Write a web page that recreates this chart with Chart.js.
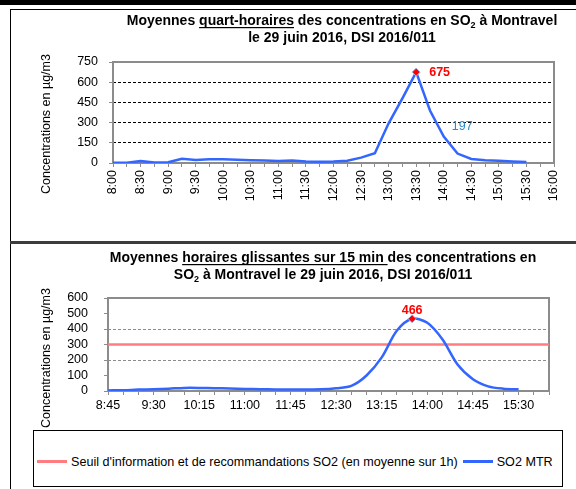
<!DOCTYPE html>
<html>
<head>
<meta charset="utf-8">
<script src="https://cdn.jsdelivr.net/npm/chart.js@4.4.1/dist/chart.umd.min.js"></script>
<style>
  body { margin: 0; background: #fff; font-family: "Liberation Sans", Arial, sans-serif; }
  #page { position: relative; width: 576px; height: 489px; overflow: hidden; }
  #barre { position: absolute; left: 0; top: 0; width: 576px; height: 5px; background: #000; }
  #cadre1 { position: absolute; left: 10px; top: 9px; width: 580px; height: 232px; border-left: 1px solid #000; border-top: 1px solid #000; }
  #sep { position: absolute; left: 10px; top: 241px; width: 580px; height: 3px; background: #3c3c3c; }
  #cadre2 { position: absolute; left: 10px; top: 244px; width: 580px; height: 260px; border-left: 1px solid #000; }
  #c1 { position: absolute; left: 0; top: 0; }
  #c2 { position: absolute; left: 0; top: 243px; }
  #legende { position: absolute; left: 33px; top: 430px; width: 530px; height: 57px; border: 1px solid #000;
             display: flex; align-items: center; padding: 6px 0 0 3px; box-sizing: border-box; font-size: 12.6px; color: #000; white-space: nowrap; }
  #legende .trait { display: inline-block; width: 30px; height: 3px; margin-right: 4px; vertical-align: middle; }
  #legende .item { display: flex; align-items: center; margin-right: 5px; }
</style>
</head>
<body>
<div id="page">
  <div id="barre"></div>
  <div id="cadre1"></div>
  <div id="sep"></div>
  <div id="cadre2"></div>
  <canvas id="c1" width="576" height="243"></canvas>
  <canvas id="c2" width="576" height="187"></canvas>
  <div id="legende"></div>
</div>
<script>
// moyennes quart-horaires (8:00 -> 16:00)
const quartLabels = ['8:00','8:15','8:30','8:45','9:00','9:15','9:30','9:45','10:00','10:15','10:30','10:45',
  '11:00','11:15','11:30','11:45','12:00','12:15','12:30','12:45','13:00','13:15','13:30','13:45',
  '14:00','14:15','14:30','14:45','15:00','15:15','15:30','15:45','16:00'];
const quartValues = [2, 2, 14, 3, 5, 31, 22, 27, 27, 25, 21, 18,
  15, 19, 12, 10, 11, 17, 40, 72, 295, 480, 675, 390,
  197, 70, 30, 20, 16, 12, 8];
const quartTicks = [0, 150, 300, 450, 600, 750];
const quartMax = 22;   // 13:30 -> 675
const quartNote = 24;  // 14:00 -> 197

// moyennes horaires glissantes (8:45 -> 16:00)
const glissLabels = ['8:45','9:00','9:15','9:30','9:45','10:00','10:15','10:30','10:45','11:00','11:15','11:30',
  '11:45','12:00','12:15','12:30','12:45','13:00','13:15','13:30','13:45','14:00','14:15','14:30',
  '14:45','15:00','15:15','15:30','15:45','16:00'];
const glissValues = [4, 5, 9, 11, 15, 20, 20, 18, 16, 13, 12, 10,
  10, 10, 11, 18, 33, 100, 217, 390, 466, 440, 332, 169,
  76, 30, 15, 11];
const seuilValues = [300, 300, 300, 300, 300, 300, 300, 300, 300, 300, 300, 300, 300, 300, 300,
  300, 300, 300, 300, 300, 300, 300, 300, 300, 300, 300, 300, 300, 300, 300];
const glissTicks = [0, 100, 200, 300, 400, 500, 600];
const glissMax = 20;   // 13:45 -> 466

const police = '"Liberation Sans", Arial, sans-serif';
const bleu = '#3366ff';
const rouge = '#ff7c80';

// titre avec souligné et indice
function texteRiche(ctx, parts, cx, y) {
  let total = 0;
  parts.forEach(p => {
    ctx.font = 'bold ' + (p.sub ? 9 : 14) + 'px ' + police;
    p.w = ctx.measureText(p.t).width;
    total += p.w;
  });
  let x = cx - total / 2;
  parts.forEach(p => {
    ctx.font = 'bold ' + (p.sub ? 9 : 14) + 'px ' + police;
    ctx.fillText(p.t, x, p.sub ? y + 3 : y);
    if (p.u) ctx.fillRect(x, y + 2, p.w, 1.2);
    x += p.w;
  });
}

function annotations(opts) {
  return {
    id: 'annot',
    beforeDatasetsDraw(chart) {
      const { ctx, chartArea: a } = chart;
      ctx.save();
      ctx.strokeStyle = '#8c8c8c';
      ctx.lineWidth = 2;
      ctx.strokeRect(a.left, a.top, a.width, a.height);
      ctx.restore();
    },
    afterDraw(chart) {
      const ctx = chart.ctx;
      ctx.save();
      ctx.fillStyle = '#000';
      ctx.textAlign = 'left';
      ctx.textBaseline = 'alphabetic';
      opts.titre.forEach(l => texteRiche(ctx, l.parts, opts.titreX, l.y));
      // titre axe y
      ctx.translate(opts.axeX, opts.axeY);
      ctx.rotate(-Math.PI / 2);
      ctx.font = '12.5px ' + police;
      ctx.textAlign = 'center';
      ctx.textBaseline = 'middle';
      ctx.fillText('Concentrations en µg/m3', 0, 0);
      ctx.restore();
      opts.etiquettes.forEach(e => {
        const pt = chart.getDatasetMeta(e.ds).data[e.i];
        const val = chart.data.datasets[e.ds].data[e.i];
        ctx.save();
        ctx.fillStyle = e.color;
        ctx.font = (e.bold ? 'bold ' : '') + '12.5px ' + police;
        ctx.textAlign = e.align;
        ctx.textBaseline = e.base;
        ctx.fillText(String(val), pt.x + e.dx, pt.y + e.dy);
        ctx.restore();
      });
    }
  };
}

function axeX(labels, pas, hauteur, rot) {
  return {
    type: 'category',
    labels: labels,
    offset: false,
    grid: { drawOnChartArea: false, color: '#8c8c8c', tickColor: '#8c8c8c', tickLength: 4 },
    border: { display: false },
    ticks: {
      autoSkip: false, maxRotation: rot, minRotation: rot, padding: 3,
      color: '#000', font: { size: 12.5, family: police },
      callback: (v, i) => (i % pas === 0 ? labels[i] : '')
    },
    afterFit: s => { s.height = hauteur; }
  };
}

function axeY(ticks, grille, ecart) {
  return {
    min: ticks[0],
    max: ticks[ticks.length - 1],
    afterBuildTicks: s => { s.ticks = ticks.map(v => ({ value: v })); },
    grid: {
      color: c => grille(c.tick.value), tickColor: '#8c8c8c', tickLength: 4, lineWidth: 1
    },
    border: { display: false, dash: [3, 2] },
    ticks: { autoSkip: false, padding: ecart, color: '#000', font: { size: 12.5, family: police } },
    afterFit: s => { s.width = 50; }
  };
}

const ptRayon = idx => c => (c.dataIndex === idx ? 4 : 0);

new Chart(document.getElementById('c1'), {
  type: 'line',
  data: {
    labels: quartLabels,
    datasets: [{
      label: 'SO2 MTR',
      data: quartValues,
      borderColor: bleu,
      borderWidth: 2.5,
      tension: 0,
      pointStyle: 'rectRot',
      pointRadius: ptRayon(quartMax),
      pointBackgroundColor: '#ff0000',
      pointBorderColor: '#9bb8e6',
      pointBorderWidth: 1
    }]
  },
  options: {
    responsive: false,
    animation: false,
    layout: { padding: { left: 63, right: 22, top: 62, bottom: 0 } },
    plugins: { legend: { display: false }, tooltip: { enabled: false } },
    scales: {
      x: axeX(quartLabels, 2, 80, 90),
      y: axeY(quartTicks, v => (v > 0 && v < 750 ? '#000' : 'rgba(0,0,0,0)'), 11)
    }
  },
  plugins: [annotations({
    titreX: 342, axeX: 47, axeY: 124,
    titre: [
      { y: 25, parts: [{ t: 'Moyennes ' }, { t: 'quart-horaires', u: true }, { t: ' des concentrations en SO' }, { t: '2', sub: true }, { t: ' à Montravel' }] },
      { y: 42, parts: [{ t: 'le 29 juin 2016, DSI 2016/011' }] }
    ],
    etiquettes: [
      { ds: 0, i: quartMax, color: '#ff0000', bold: true, align: 'left', base: 'middle', dx: 13, dy: 0 },
      { ds: 0, i: quartNote, color: '#2e8bc9', bold: false, align: 'left', base: 'middle', dx: 8, dy: -10 }
    ]
  })]
});

const chart2 = new Chart(document.getElementById('c2'), {
  type: 'line',
  data: {
    labels: glissLabels,
    datasets: [{
      label: "Seuil d'information et de recommandations SO2 (en moyenne sur 1h)",
      data: seuilValues,
      borderColor: rouge,
      borderWidth: 2.5,
      pointRadius: 0,
      order: 2
    }, {
      label: 'SO2 MTR',
      data: glissValues,
      borderColor: bleu,
      borderWidth: 2.5,
      tension: 0.3,
      pointStyle: 'rectRot',
      pointRadius: ptRayon(glissMax),
      pointBackgroundColor: '#ff0000',
      pointBorderColor: '#9bb8e6',
      pointBorderWidth: 1,
      order: 1
    }]
  },
  options: {
    responsive: false,
    animation: false,
    layout: { padding: { left: 58, right: 27, top: 55, bottom: 0 } },
    plugins: { legend: { display: false }, tooltip: { enabled: false } },
    scales: {
      x: axeX(glissLabels, 3, 39, 0),
      y: axeY(glissTicks, v => (v === 200 || v === 400 ? '#8c8c8c' : 'rgba(0,0,0,0)'), 16)
    }
  },
  plugins: [annotations({
    titreX: 323, axeX: 47, axeY: 115,
    titre: [
      { y: 19, parts: [{ t: 'Moyennes ' }, { t: 'horaires glissantes sur 15 min ', u: true }, { t: 'des concentrations en' }] },
      { y: 36, parts: [{ t: 'SO' }, { t: '2', sub: true }, { t: ' à Montravel le 29 juin 2016, DSI 2016/011' }] }
    ],
    etiquettes: [
      { ds: 1, i: glissMax, color: '#ff0000', bold: true, align: 'center', base: 'alphabetic', dx: 0, dy: -5 }
    ]
  })]
});

// légende encadrée
const leg = document.getElementById('legende');
chart2.data.datasets.forEach(d => {
  const item = document.createElement('span');
  item.className = 'item';
  const trait = document.createElement('span');
  trait.className = 'trait';
  trait.style.background = d.borderColor;
  item.appendChild(trait);
  item.appendChild(document.createTextNode(d.label));
  leg.appendChild(item);
});
</script>
</body>
</html>
